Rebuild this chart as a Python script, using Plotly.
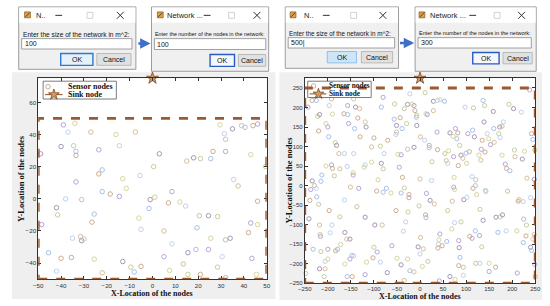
import plotly.graph_objects as go

W, H = 550, 306

# ---------------- data ----------------
NETWORK_SIZES = [100, 500]          # values typed in the first dialogs
NODE_COUNTS = [100, 300]            # values typed in the second dialogs
LEFT_X_TICKS = [-50, -40, -30, -20, -10, 0, 10, 20, 30, 40, 50]
LEFT_Y_TICKS = [-40, -20, 0, 20, 40, 60]
RIGHT_TICKS = [-250, -200, -150, -100, -50, 0, 50, 100, 150, 200, 250]
LEFT_SINK_X, LEFT_SINK_Y = [0], [75]
RIGHT_SINK_X, RIGHT_SINK_Y = [0], [275]

LEFT_NODES = [
    (-39, 46), (-34, 47), (-37, 41.5), (-27, 41.5), (-40, 32.5), (-34.5, 33), (-33.5, 29.5), (-33.5, 27),
    (-23.5, 30.5), (-16, 40), (-14.5, 33), (-7.5, 41.5), (3, 28), (0.5, 20), (-22, 18), (-23.5, 15.5),
    (-33.5, 10.5), (-13, 12.5), (-5.5, 14.5), (15, 23.5), (18, 25.5), (21, 25), (25.5, 25), (26.5, 29.5),
    (32, 29.5), (29.5, 46), (31.5, 40.5), (32, 37), (35, 43.5), (39, 45.5), (40.5, 44.5), (44, 45.5),
    (46, 46.5), (43, 27.5), (35.5, 12), (37.5, 8), (-49, 28), (49.5, 20),
    (-22, 4.5), (-18.5, 3), (-14.5, 1.5), (-11.5, 6.5), (-38, 0), (-31, -0.5), (-42, -5.5), (-41.5, -10),
    (-25.5, -9.5), (-26.5, -14.5), (-48.5, -16), (-6, -12), (-5, -19), (5, -20), (-1, -0.5), (1, 1),
    (-1.5, -6), (7, -2.5), (8.5, 4.5), (12, -2), (14.5, -4.5), (20.5, -10.5), (24.5, -10.5), (28.5, -11),
    (19.5, -18), (46, -1.5), (43, -15), (46, -16), (-35, -24.5), (-31.5, -23.5), (-31, -26), (-30, -25),
    (-45.5, -33.5), (-40, -37), (-35.5, -36.5), (-25.5, -37.5), (-42, -45), (-22, -46), (-13, -39),
    (-9.5, -42.5), (-8, -45.5), (-5, -42), (5, -36), (7.5, -44.5), (8.5, -28), (13.5, -40.5), (15.5, -33.5),
    (15.5, -47), (19, -31.5), (21, -47), (24.5, -31.5), (25.5, -24.5), (30.5, -36), (32, -25.5), (34, -24.5),
    (28.5, -42.5), (32, -49), (42, -21), (43.5, -37), (45.5, -47),
]

RIGHT_NODES = [
    (-243, 201), (-234, 218), (-225, 218), (-222, 177), (-218, 182), (-192, 222), (-197, 205), (-204, 159),
    (-200, 150), (-220, 140), (-198, 125), (-184, 110), (-181, 103), (-176, 82), (-164, 82), (-204, 50),
    (-192, 53), (-190, 44), (-213, 27), (-186, 25), (-234, 12), (-229, 0), (-225, -7), (-158, 233),
    (-157, 205), (-165, 184), (-157, 182), (-144, 222), (-140, 201), (-131, 197), (-144, 82), (-145, 33),
    (-145, 27), (-130, 125), (-142, 146), (-119, 163), (-117, 150), (-105, 99), (-119, 53), (-121, 47),
    (-133, -7), (-100, 122), (-84, 201), (-86, 101), (-84, 57), (-80, 43), (-78, 82), (-91, 15),
    (-80, 226), (-70, 116), (-73, -7), (-55, 209), (-51, 154), (-51, 137), (-52, 131), (-48, 80),
    (-41, 79), (-43, 174), (-39, 146), (-34, 197), (-27, 208), (-27, 93), (-22, 235), (-17, 209),
    (-13, 205), (-11, 192), (-8, 175), (-7, 180), (-7, 154), (1, 125), (10, 116), (13, 184),
    (16, 182), (20, 103), (20, 97), (26, 61), (29, 216), (29, 192), (38, 218), (43, 220),
    (37, 137), (38, 92), (53, 216), (54, 82), (65, 135), (57, 64), (60, 57), (72, 126),
    (77, 146), (82, 135), (80, 120), (86, 103), (89, 78), (93, 70), (98, 201), (101, 57),
    (104, 133), (107, 87), (114, 142), (116, 199), (118, 125), (121, 15), (113, 23), (128, 78),
    (133, 93), (135, 116), (137, 218), (140, 205), (139, 163), (132, 65), (146, 133), (149, 120),
    (153, 105), (141, 86), (160, 146), (171, 133), (173, 150), (178, 152), (181, 163), (178, 78),
    (185, 55), (188, 44), (195, 38), (193, 208), (203, 197), (206, 74), (220, 188), (227, 88),
    (238, 245), (242, 133), (245, 118), (249, 91), (248, 16), (232, 19), (142, -12),
    (-190, 183), (-155, 159), (-135, 173), (-56, 170), (-29, 159), (-13, 98), (-174, 43), (-158, 49),
    (-105, 60), (-45, 47), (-38, 21), (-215, 11),
    (11, 238), (159, 190), (161, 111), (174, 123), (62, 89), (73, 74), (83, 51), (100, 83),
    (205, 91), (222, 68), (0, 17), (25, 13), (74, 21),
    (-237, -10), (-239, -38), (-224, -29), (-220, -48), (-241, -85), (-218, -101), (-191, -101), (-217, -125),
    (-216, -130), (-197, -64), (-232, -163), (-215, -169), (-218, -213), (-206, -213), (-206, -194), (-200, -188),
    (-200, -163), (-183, -167), (-179, -163), (-174, -80), (-163, -120), (-159, -137), (-164, -37), (-163, -201),
    (-152, -188), (-147, -233), (-158, -233), (-208, -233), (-152, -137), (-137, -54), (-144, -180), (-116, -196),
    (-119, -228), (-94, -14), (-80, -17), (-100, -158), (-98, -101), (-82, -101), (-86, -196), (-63, -19),
    (-61, -154), (-52, -64), (-41, -19), (-34, -6), (-41, -203), (-34, -243), (-31, -93), (-27, -188),
    (-24, -31), (-24, -23), (-22, -218), (-2, -52), (-4, -157), (1, -133), (0, -175), (5, -207),
    (14, -20), (12, -75), (13, -82), (17, -194), (22, -38), (31, -47), (40, -150), (41, -139),
    (43, -124), (48, -154), (58, -143), (60, -64), (65, -233), (70, -40), (75, -95), (75, -10),
    (84, -141), (84, -205), (87, -184), (89, -93), (95, -36), (94, -209), (102, -30), (123, -23),
    (113, -135), (108, -130), (120, -116), (130, -61), (137, -89), (121, -199), (130, -199), (150, -199),
    (150, -220), (164, -209), (169, -120), (174, -80), (179, -75), (190, -14), (187, -116), (210, -116),
    (211, -224), (213, -40), (225, -86), (231, -101), (240, -158), (248, -125), (240, -31), (245, -137),
    (249, -202), (250, -233), (224, -146),
    (-248, -225), (-71, -223), (-13, -221), (-36, -117), (-50, -186), (-93, -170), (-102, -185), (-148, -179),
    (-26, -68), (-119, -81), (-151, -4), (-195, -121), (-172, -151),
    (73, -4), (115, -7), (120, 0), (143, -15), (165, -81), (215, -36), (224, -41), (69, -111),
    (129, -128), (230, -129), (242, -166), (134, -157), (85, -159), (7, -162), (94, -230), (76, -240),
    (42, -244), (39, -160),
]

PALETTE = ['#b6a6da', '#d7bf9d', '#a7c0ec', '#d8d69c', '#a597b6', '#cdae8e', '#bdd3f2', '#c6cf9b']

# ---------------- helpers ----------------
def fx(x):
    return x / W


def fy(y):
    return 1 - y / H


SANS = 'Liberation Sans'
SERIF = 'Liberation Serif'
shapes = []
annotations = []


def prect(x0, y0, x1, y1, fill, line='rgba(0,0,0,0)', lw=0):
    shapes.append(dict(type='rect', xref='paper', yref='paper', x0=fx(x0), x1=fx(x1), y0=fy(y1), y1=fy(y0),
                       fillcolor=fill, line=dict(color=line, width=lw), layer='below'))


def orect(x0, y0, x1, y1, fill, line='rgba(0,0,0,0)', lw=0):
    shapes.append(dict(type='rect', xref='x3', yref='y3', x0=x0, x1=x1, y0=y0, y1=y1,
                       fillcolor=fill, line=dict(color=line, width=lw), layer='below'))


def oline(x0, y0, x1, y1, color, lw=1):
    shapes.append(dict(type='line', xref='x3', yref='y3', x0=x0, x1=x1, y0=y0, y1=y1,
                       line=dict(color=color, width=lw), layer='below'))


def otext(x, y, text, size, color='#111', anchor='left', family=SANS, weight='normal', angle=0):
    annotations.append(dict(xref='x3', yref='y3', x=x, y=y, text=text, showarrow=False, xanchor=anchor,
                            yanchor='middle', textangle=angle, borderpad=0,
                            font=dict(family=family, size=size, color=color, weight=weight)))


def dialog(x0, x1, y0, y1, title, title_x, icon_x, ctrl, label, label_size, label_y, tb, value,
           ok, ok_fill, ok_border, ok_bw, cancel):
    orect(x0, y0, x1, y1, '#f0f0f0', '#9c9c9c', 1)
    orect(x0 + 0.5, y0 + 0.5, x1 - 0.5, y0 + 16, '#ffffff')
    orect(icon_x, y0 + 5, icon_x + 6, y0 + 11, '#e0a040', '#6b4a2a', 0.6)
    oline(icon_x + 1, y0 + 10, icon_x + 5, y0 + 6, '#3a2a1a', 0.8)
    otext(title_x, y0 + 8.5, title, 7.5, '#222')
    mn, mx, cl = ctrl
    oline(mn - 3.5, y0 + 8.5, mn + 3.5, y0 + 8.5, '#333', 1)
    orect(mx - 3, y0 + 5.5, mx + 3, y0 + 11.5, 'rgba(0,0,0,0)', '#c8c8c8', 0.8)
    oline(cl - 3.5, y0 + 5, cl + 3.5, y0 + 12, '#333', 1)
    oline(cl - 3.5, y0 + 12, cl + 3.5, y0 + 5, '#333', 1)
    otext(x0 + 3, label_y, label, label_size, '#111')
    orect(tb[0], tb[1], tb[2], tb[3], '#ffffff', '#8a8a8a', 0.8)
    otext(tb[0] + 2, (tb[1] + tb[3]) / 2, value, 7, '#111')
    orect(ok[0], ok[1], ok[2], ok[3], ok_fill, ok_border, ok_bw)
    otext((ok[0] + ok[2]) / 2, (ok[1] + ok[3]) / 2, 'OK', 7, '#111', 'center')
    orect(cancel[0], cancel[1], cancel[2], cancel[3], '#e1e1e1', '#adadad', 0.8)
    otext((cancel[0] + cancel[2]) / 2, (cancel[1] + cancel[3]) / 2, 'Cancel', 7, '#111', 'center')


# ---------------- panels ----------------
prect(5, 73, 275, 302, '#efefef')
prect(279, 73, 548, 303, '#efefef')
L_DOM = (32, 266, 79, 282)
R_DOM = (305, 541, 79, 286)
prect(L_DOM[0], L_DOM[2], L_DOM[1], L_DOM[3], '#ffffff')
prect(R_DOM[0], R_DOM[2], R_DOM[1], R_DOM[3], '#ffffff')

# dashed deployment area
half_l = NETWORK_SIZES[0] / 2
half_r = NETWORK_SIZES[1] / 2
for ax, h in (('', half_l), ('2', half_r)):
    shapes.append(dict(type='rect', xref='x' + ax, yref='y' + ax, x0=-h, x1=h, y0=-h, y1=h,
                       line=dict(color='#9a5a30', width=2.8, dash='dash'), fillcolor='rgba(0,0,0,0)',
                       layer='above'))

# ---------------- dialogs ----------------
dialog(12, 132, 7, 70, 'N..', 29, 18, (53, 85, 116), 'Enter the size of the network in m^2:', 6.6, 34.5,
       (15, 39, 128, 49.5), str(NETWORK_SIZES[0]), (55, 54, 88, 66), '#e5f1fb', '#2a7bd4', 1.4, (92, 54, 127, 66))
dialog(148, 268, 7, 72, 'Network ...', 163, 154, (205, 230, 256),
       'Enter the number of the nodes in the network:', 5.4, 34.5,
       (151, 39, 265, 50), str(NODE_COUNTS[0]), (208, 55, 233, 67), '#f4f8fc', '#2a5bc4', 1.4, (237, 55, 265, 67))
dialog(285, 401, 7, 69, 'N..', 303, 290, (327, 355, 385), 'Enter the size of the network in m^2:', 6.3, 33.5,
       (288, 38, 397, 48.5), str(NETWORK_SIZES[1]) + '|', (328, 52, 358, 63.5), '#cde5f7', '#7eb4ea', 0.8,
       (363, 52, 395, 63.5))
dialog(418, 542, 7, 72, 'Network ...', 432, 422, (477, 502, 527),
       'Enter the number of the nodes in the network:', 5.5, 33.5,
       (421, 38, 537, 48.5), str(NODE_COUNTS[1]), (477, 53, 504, 64.5), '#f4f8fc', '#2a5bc4', 1.4,
       (508, 53, 538, 64.5))

for (xa, xb, y) in ((133, 147, 44), (401, 417, 43.5)):
    annotations.append(dict(xref='x3', yref='y3', axref='x3', ayref='y3', x=xb, y=y, ax=xa, ay=y, text='',
                            showarrow=True, arrowhead=2, arrowsize=0.8, arrowwidth=2.6, arrowcolor='#3f6fc6'))

# ---------------- axis titles ----------------
otext(149, 296.5, 'X-Location of the nodes', 8, '#111', 'center', SERIF, 'bold')
otext(423, 299.5, 'X-Location of the nodes', 8, '#111', 'center', SERIF, 'bold')
otext(15, 180, 'Y-Location of the nodes', 8.5, '#111', 'center', SERIF, 'bold', -90)
otext(289, 182, 'Y-Location of the nodes', 8.5, '#111', 'center', SERIF, 'bold', -90)

# ---------------- legends ----------------
LEG = [
    dict(box=(37, 82, 112, 100), circ=(42, 87.5), line=(39, 57), star=(48, 95.5), tx=61, ty=(87.5, 95.5), fs=8),
    dict(box=(308, 82, 373, 98.5), circ=(314, 86.8), line=(310, 327), star=(319, 94.8), tx=328.5, ty=(86.8, 94.8), fs=7.3),
]
leg_cx, leg_cy, leg_sx, leg_sy = [], [], [], []
for lg in LEG:
    b = lg['box']
    orect(b[0], b[1], b[2], b[3], '#ffffff', '#444444', 0.7)
    oline(lg['line'][0], lg['star'][1], lg['line'][1], lg['star'][1], '#a0643a', 1.2)
    leg_cx.append(lg['circ'][0]); leg_cy.append(lg['circ'][1])
    leg_sx.append(lg['star'][0]); leg_sy.append(lg['star'][1])
    otext(lg['tx'], lg['ty'][0], 'Sensor nodes', lg['fs'], '#111', 'left', SERIF, 'bold')
    otext(lg['tx'], lg['ty'][1], 'Sink node', lg['fs'], '#111', 'left', SERIF, 'bold')

# ---------------- traces ----------------
fig = go.Figure()


def colors_for(n, step):
    return [PALETTE[(i * step) % len(PALETTE)] for i in range(n)]


fig.add_trace(go.Scatter(x=[p[0] for p in LEFT_NODES], y=[p[1] for p in LEFT_NODES], mode='markers',
                         xaxis='x', yaxis='y', cliponaxis=False, showlegend=False,
                         marker=dict(symbol='circle-open', size=4.5, color=colors_for(len(LEFT_NODES), 3),
                                     line=dict(width=1))))
fig.add_trace(go.Scatter(x=[p[0] for p in RIGHT_NODES], y=[p[1] for p in RIGHT_NODES], mode='markers',
                         xaxis='x2', yaxis='y2', cliponaxis=False, showlegend=False,
                         marker=dict(symbol='circle-open', size=4.2, color=colors_for(len(RIGHT_NODES), 5),
                                     line=dict(width=1))))
STAR = dict(symbol='star', size=9, color='#d39a62', line=dict(color='#7a4a26', width=0.8))
fig.add_trace(go.Scatter(x=LEFT_SINK_X, y=LEFT_SINK_Y, mode='markers', xaxis='x', yaxis='y',
                         cliponaxis=False, showlegend=False, marker=STAR))
fig.add_trace(go.Scatter(x=RIGHT_SINK_X, y=RIGHT_SINK_Y, mode='markers', xaxis='x2', yaxis='y2',
                         cliponaxis=False, showlegend=False, marker=STAR))
# legend symbols
fig.add_trace(go.Scatter(x=leg_cx, y=leg_cy, mode='markers', xaxis='x3', yaxis='y3', showlegend=False,
                         cliponaxis=False, marker=dict(symbol='circle-open', size=4.5, color='#c9b08e',
                                                       line=dict(width=1))))
fig.add_trace(go.Scatter(x=leg_sx, y=leg_sy, mode='markers', xaxis='x3', yaxis='y3', showlegend=False,
                         cliponaxis=False, marker=dict(STAR, size=8)))

AX = dict(showgrid=False, zeroline=False, showline=True, linecolor='#333333', linewidth=0.8, mirror='ticks',
          ticks='inside', ticklen=3, tickwidth=0.8, tickcolor='#333333',
          tickfont=dict(family=SANS, size=6.2, color='#333333'))

fig.update_layout(
    width=W, height=H, margin=dict(l=0, r=0, t=0, b=0),
    paper_bgcolor='#ffffff', plot_bgcolor='rgba(0,0,0,0)', showlegend=False,
    xaxis=dict(AX, domain=[fx(L_DOM[0]), fx(L_DOM[1])], range=[-50, 50], tickvals=LEFT_X_TICKS, anchor='y'),
    yaxis=dict(AX, domain=[fy(L_DOM[3]), fy(L_DOM[2])], range=[-50, 75], tickvals=LEFT_Y_TICKS, anchor='x'),
    xaxis2=dict(AX, domain=[fx(R_DOM[0]), fx(R_DOM[1])], range=[-250, 250], tickvals=RIGHT_TICKS, anchor='y2',
                tickfont=dict(family=SANS, size=6, color='#333333')),
    yaxis2=dict(AX, domain=[fy(R_DOM[3]), fy(R_DOM[2])], range=[-250, 275], tickvals=RIGHT_TICKS, anchor='x2',
                tickfont=dict(family=SANS, size=6, color='#333333')),
    xaxis3=dict(domain=[0, 1], range=[0, W], visible=False, anchor='y3', fixedrange=True),
    yaxis3=dict(domain=[0, 1], range=[H, 0], visible=False, anchor='x3', fixedrange=True),
    shapes=shapes, annotations=annotations,
)

fig.write_html('out.html', config={'displayModeBar': False},
               post_script="document.body.style.margin='0';document.body.style.overflow='hidden';")
